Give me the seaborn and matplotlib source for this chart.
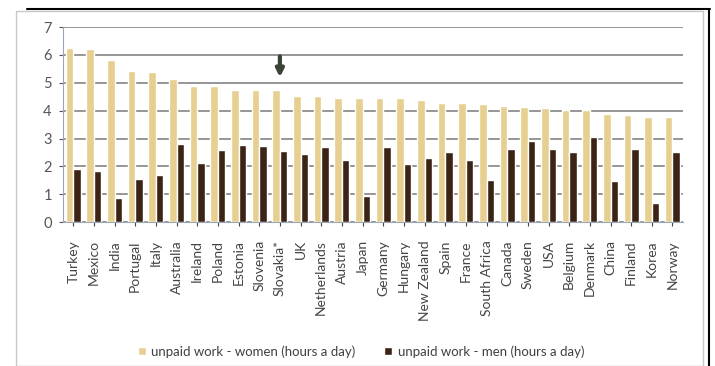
import pandas as pd
import seaborn as sns
import matplotlib.pyplot as plt
from matplotlib.lines import Line2D
from matplotlib.patches import Rectangle

countries = ['Turkey', 'Mexico', 'India', 'Portugal', 'Italy', 'Australia', 'Ireland',
             'Poland', 'Estonia', 'Slovenia', 'Slovakia*', 'UK', 'Netherlands', 'Austria',
             'Japan', 'Germany', 'Hungary', 'New Zealand', 'Spain', 'France',
             'South Africa', 'Canada', 'Sweden', 'USA', 'Belgium', 'Denmark', 'China',
             'Finland', 'Korea', 'Norway']
women = [6.25, 6.2, 5.82, 5.42, 5.38, 5.15, 4.9, 4.9, 4.75, 4.75, 4.75, 4.53, 4.53, 4.46,
         4.46, 4.46, 4.46, 4.38, 4.26, 4.26, 4.25, 4.17, 4.13, 4.1, 4.02, 4.02, 3.88,
         3.84, 3.76, 3.76]
men = [1.9, 1.85, 0.85, 1.56, 1.68, 2.8, 2.12, 2.58, 2.78, 2.73, 2.56, 2.46, 2.68, 2.22,
       0.95, 2.7, 2.1, 2.32, 2.53, 2.22, 1.5, 2.64, 2.9, 2.64, 2.5, 3.07, 1.48, 2.62,
       0.7, 2.5]
label_w = 'unpaid work - women (hours a day)'
label_m = 'unpaid work - men (hours a day)'

df = pd.DataFrame({'country': countries * 2,
                   'hours': women + men,
                   'series': [label_w] * len(countries) + [label_m] * len(countries)})

sns.set_style('white')
plt.rcParams['font.family'] = ['Lato', 'DejaVu Sans']

fig = plt.figure(figsize=(7.15, 3.66), dpi=100)
ax = fig.add_axes([0.088, 0.393, 0.867, 0.533])

sns.barplot(data=df, x='country', y='hours', hue='series',
            palette=['#E6CF90', '#3B2415'], width=0.72, gap=0.0,
            saturation=1, ax=ax, zorder=3)

ax.set_ylim(0, 7)
ax.set_yticks(range(0, 8))
ax.set_xlim(-0.5, len(countries) - 0.5)
ax.yaxis.grid(True, color='#8e8e8e', linewidth=1.3, zorder=0)
ax.set_axisbelow(True)
for s in ['top', 'right']:
    ax.spines[s].set_visible(False)
ax.spines['left'].set_color('#9aa6b8')
ax.spines['bottom'].set_color('#9aa6b8')
ax.set_xlabel('')
ax.set_ylabel('')
ax.tick_params(axis='y', labelsize=10.5, colors='#555555', length=3, left=True, pad=5)
ax.tick_params(axis='x', labelsize=10, colors='#444444', length=3, bottom=True,
               rotation=90, pad=10)

# arrow above Slovakia
ax.annotate('', xy=(10, 5.1), xytext=(10, 6.05),
            arrowprops=dict(arrowstyle='-|>', color='#3a4436', lw=3,
                            mutation_scale=11))

ax.legend(loc='lower center', bbox_to_anchor=(0.505, -0.01), bbox_transform=fig.transFigure,
          ncol=2, frameon=False, fontsize=9.5, handlelength=0.6, handleheight=0.6,
          columnspacing=2.2, handletextpad=0.4, labelcolor='#404040')

# outer frame decorations
fig.add_artist(Rectangle((16 / 715, 0), 687 / 715, 1 - 11 / 366, transform=fig.transFigure,
                         fill=False, edgecolor='#c8c8c8', linewidth=1.0))
fig.add_artist(Line2D([27 / 715, 710 / 715], [1 - 8.5 / 366, 1 - 8.5 / 366],
                      transform=fig.transFigure, color='black', linewidth=1.5))
fig.add_artist(Line2D([709 / 715, 709 / 715], [0, 1 - 8.5 / 366],
                      transform=fig.transFigure, color='black', linewidth=1.5))

fig.savefig('out.png', dpi=100)
